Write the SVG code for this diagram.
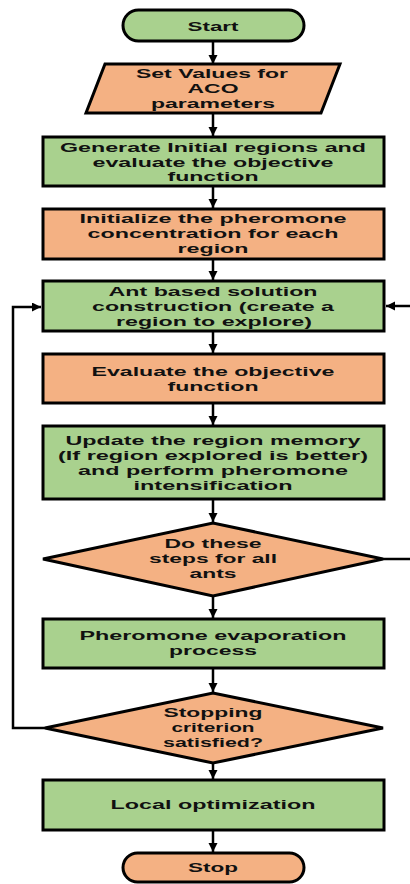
<svg xmlns="http://www.w3.org/2000/svg" width="410" height="884" viewBox="0 0 410 884">
<style>
.g{fill:#A9D18E;stroke:#000;stroke-width:3}
.o{fill:#F4B183;stroke:#000;stroke-width:3}
.t{font-family:"Liberation Sans",Arial,sans-serif;font-weight:bold;font-size:13.5px;fill:#111;text-anchor:middle}
.c{fill:none;stroke:#000;stroke-width:2.5}
</style>
<defs>
<marker id="ah" markerUnits="userSpaceOnUse" markerWidth="10" markerHeight="10" refX="9" refY="4.5" orient="auto">
<path d="M0,0 L9,4.5 L0,9 z" fill="#000"/>
</marker>
</defs>
<rect width="410" height="884" fill="#fff"/>
<g id="connectors">
<line class="c" x1="213" y1="41" x2="213" y2="64" marker-end="url(#ah)"/>
<line class="c" x1="213" y1="113" x2="213" y2="136" marker-end="url(#ah)"/>
<line class="c" x1="213" y1="186" x2="213" y2="208" marker-end="url(#ah)"/>
<line class="c" x1="213" y1="259" x2="213" y2="280" marker-end="url(#ah)"/>
<line class="c" x1="213" y1="331" x2="213" y2="353" marker-end="url(#ah)"/>
<line class="c" x1="213" y1="403" x2="213" y2="425" marker-end="url(#ah)"/>
<line class="c" x1="213" y1="499" x2="213" y2="522" marker-end="url(#ah)"/>
<line class="c" x1="213" y1="596" x2="213" y2="618" marker-end="url(#ah)"/>
<line class="c" x1="213" y1="668" x2="213" y2="692" marker-end="url(#ah)"/>
<line class="c" x1="213" y1="763" x2="213" y2="779" marker-end="url(#ah)"/>
<line class="c" x1="213" y1="830" x2="213" y2="852" marker-end="url(#ah)"/>
<polyline class="c" points="45,728 13,728 13,307 41,307" marker-end="url(#ah)"/>
<line class="c" x1="383" y1="559" x2="412" y2="559"/>
<line class="c" x1="412" y1="306" x2="386" y2="306" marker-end="url(#ah)"/>
</g>
<g id="start">
<rect class="g" x="123" y="10" width="181" height="31" rx="15.5"/>
<text class="t" x="213" y="31" textLength="51" lengthAdjust="spacingAndGlyphs">Start</text>
</g>
<g id="set-values">
<polygon class="o" points="105,64 340,64 321,113 86,113"/>
<text class="t" x="212" y="78" textLength="152" lengthAdjust="spacingAndGlyphs">Set Values for</text>
<text class="t" x="213" y="93" textLength="51" lengthAdjust="spacingAndGlyphs">ACO</text>
<text class="t" x="213" y="108" textLength="124" lengthAdjust="spacingAndGlyphs">parameters</text>
</g>
<g id="generate">
<rect class="g" x="43" y="137" width="341" height="49"/>
<text class="t" x="213" y="152" textLength="306" lengthAdjust="spacingAndGlyphs">Generate Initial regions and</text>
<text class="t" x="213" y="167" textLength="241" lengthAdjust="spacingAndGlyphs">evaluate the objective</text>
<text class="t" x="213" y="181" textLength="91" lengthAdjust="spacingAndGlyphs">function</text>
</g>
<g id="initialize">
<rect class="o" x="43" y="209" width="341" height="50"/>
<text class="t" x="213" y="223" textLength="267" lengthAdjust="spacingAndGlyphs">Initialize the pheromone</text>
<text class="t" x="213" y="238" textLength="251" lengthAdjust="spacingAndGlyphs">concentration for each</text>
<text class="t" x="213" y="253" textLength="71" lengthAdjust="spacingAndGlyphs">region</text>
</g>
<g id="ant">
<rect class="g" x="43" y="281" width="341" height="50"/>
<text class="t" x="213" y="296" textLength="209" lengthAdjust="spacingAndGlyphs">Ant based solution</text>
<text class="t" x="213" y="311" textLength="242" lengthAdjust="spacingAndGlyphs">construction (create a</text>
<text class="t" x="214" y="326" textLength="196" lengthAdjust="spacingAndGlyphs">region to explore)</text>
</g>
<g id="evaluate">
<rect class="o" x="43" y="354" width="341" height="49"/>
<text class="t" x="213" y="376" textLength="243" lengthAdjust="spacingAndGlyphs">Evaluate the objective</text>
<text class="t" x="213" y="391" textLength="91" lengthAdjust="spacingAndGlyphs">function</text>
</g>
<g id="update">
<rect class="g" x="43" y="426" width="341" height="73"/>
<text class="t" x="213" y="445" textLength="295" lengthAdjust="spacingAndGlyphs">Update the region memory</text>
<text class="t" x="213" y="460" textLength="310" lengthAdjust="spacingAndGlyphs">(If region explored is better)</text>
<text class="t" x="213" y="475" textLength="270" lengthAdjust="spacingAndGlyphs">and perform pheromone</text>
<text class="t" x="213" y="490" textLength="159" lengthAdjust="spacingAndGlyphs">intensification</text>
</g>
<g id="do-steps">
<polygon class="o" points="43,559 213,523 383,559 213,596"/>
<text class="t" x="213" y="548" textLength="97" lengthAdjust="spacingAndGlyphs">Do these</text>
<text class="t" x="213" y="563" textLength="128" lengthAdjust="spacingAndGlyphs">steps for all</text>
<text class="t" x="213" y="578" textLength="47" lengthAdjust="spacingAndGlyphs">ants</text>
</g>
<g id="evaporation">
<rect class="g" x="43" y="619" width="341" height="49"/>
<text class="t" x="213" y="640" textLength="267" lengthAdjust="spacingAndGlyphs">Pheromone evaporation</text>
<text class="t" x="213" y="655" textLength="88" lengthAdjust="spacingAndGlyphs">process</text>
</g>
<g id="stopping">
<polygon class="o" points="45,728 213,693 383,728 213,763"/>
<text class="t" x="213" y="717" textLength="99" lengthAdjust="spacingAndGlyphs">Stopping</text>
<text class="t" x="213" y="732" textLength="83" lengthAdjust="spacingAndGlyphs">criterion</text>
<text class="t" x="213" y="747" textLength="100" lengthAdjust="spacingAndGlyphs">satisfied?</text>
</g>
<g id="local">
<rect class="g" x="43" y="780" width="341" height="50"/>
<text class="t" x="213" y="809" textLength="205" lengthAdjust="spacingAndGlyphs">Local optimization</text>
</g>
<g id="stop">
<rect class="o" x="123" y="853" width="181" height="29" rx="14.5"/>
<text class="t" x="213" y="872" textLength="50" lengthAdjust="spacingAndGlyphs">Stop</text>
</g>
</svg>
